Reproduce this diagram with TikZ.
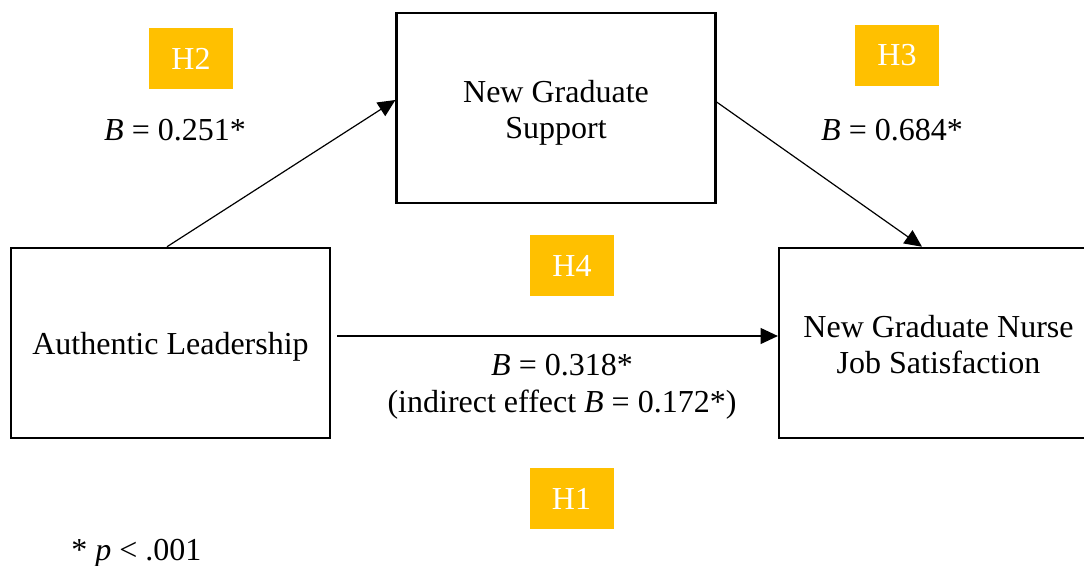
\documentclass[tikz,border=0pt]{standalone}
\usepackage{fontspec}
\setmainfont{Liberation Serif}
\usetikzlibrary{arrows.meta,calc}
\definecolor{hgold}{HTML}{FFC000}
\begin{document}
\begin{tikzpicture}[x=0.75pt,y=-0.75pt,
  every node/.style={font=\fontsize{24}{27}\selectfont},
  varbox/.style={draw, line width=1.9pt, minimum width=239pt, minimum height=142.5pt, align=center, inner sep=0pt},
  hbox/.style={fill=hgold, text=white, minimum width=63pt, minimum height=45.5pt, inner sep=0pt},
  conn/.style={line width=0.9pt, -{Triangle[length=13pt,width=12pt]}},
  lbl/.style={anchor=base}]
\useasboundingbox (0,0) rectangle (1084,565);
% variable boxes
\node[varbox] (al) at (170.5,343) {\rule{0pt}{22.5pt}Authentic Leadership};
\node[varbox] (ngs) at (556,108) {\rule{0pt}{24pt}New Graduate\\Support};
\node[varbox] (nj) at (938.5,343) {\rule{0pt}{19pt}New Graduate Nurse\\Job Satisfaction};
% hypothesis tags
\node[hbox] (h2) at (191,58.5) {H2};
\node[hbox] (h3) at (897,55.5) {H3};
\node[hbox] (h4) at (572,265.5) {H4};
\node[hbox] (h1) at (571.5,498.5) {H1};
% connectors
\draw[conn] ($(al.north)+(-3.5,0)$) -- ($(ngs.west)+(0,-8)$);
\draw[conn] ($(ngs.east)+(0,-6)$) -- ($(nj.north)+(-16.5,0)$);
\draw[conn] ($(al.east)+(6,-7)$) -- ($(nj.west)+(0,-7)$);
% coefficients
\node[lbl] (b2) at (175,140) {\textit{B} = 0.251*};
\node[lbl] (b3) at (892,140) {\textit{B} = 0.684*};
\node[lbl] (b1) at (562,375) {\textit{B} = 0.318*};
\node[lbl] (b1i) at (562,412) {(indirect effect \textit{B} = 0.172*)};
\node[anchor=base west, inner sep=0pt] (note) at (71,560) {* \textit{p} < .001};
\end{tikzpicture}
\end{document}
